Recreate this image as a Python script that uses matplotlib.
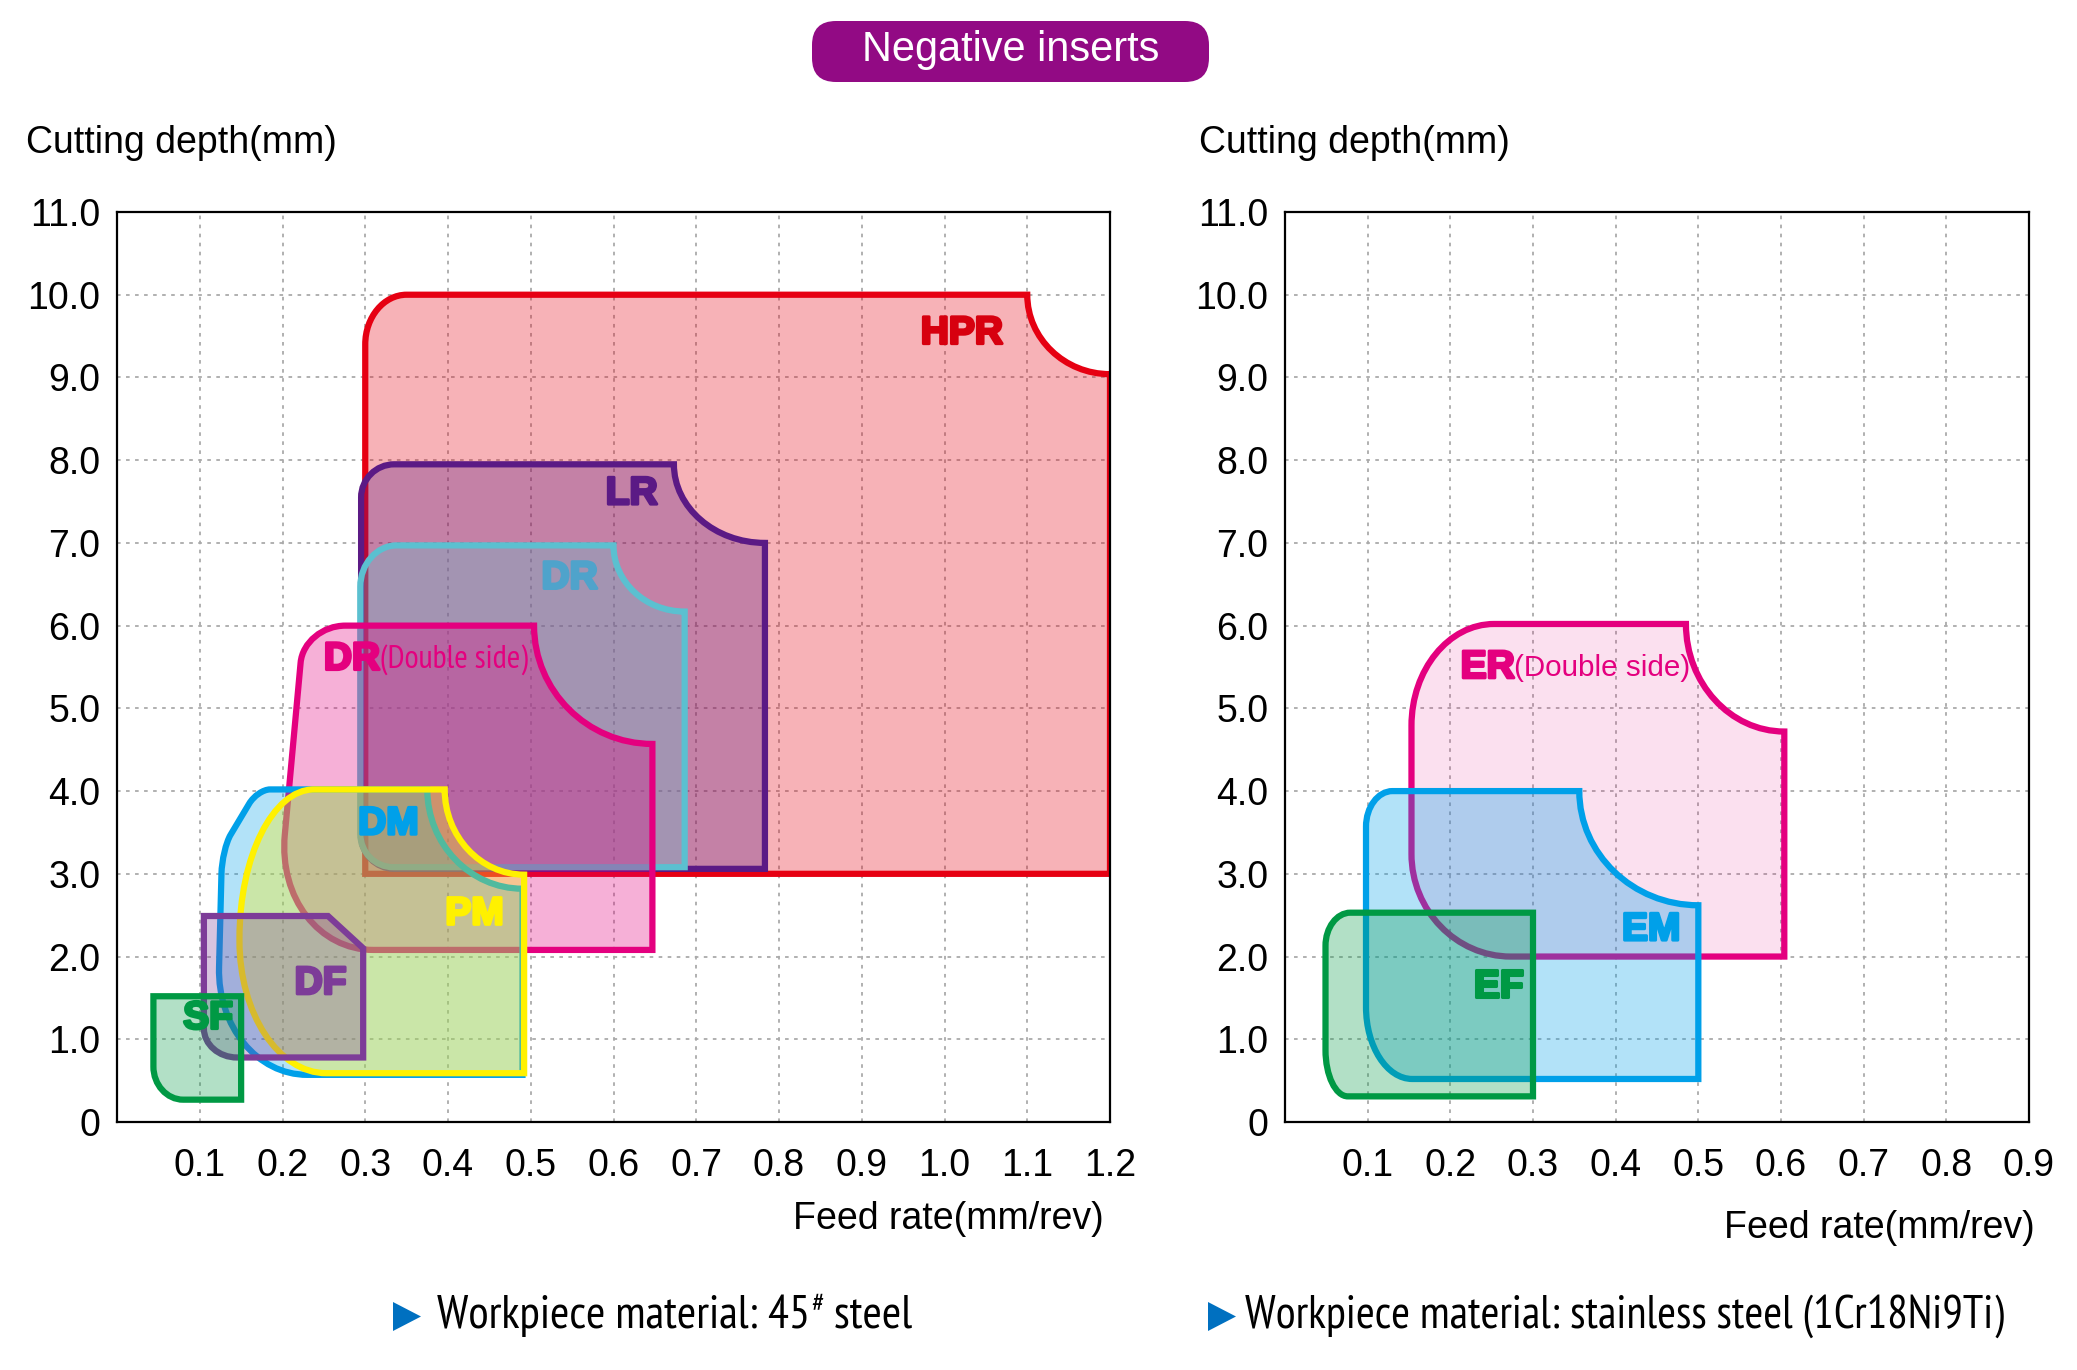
import matplotlib
matplotlib.use('Agg')
import numpy as np
import matplotlib.pyplot as plt
from matplotlib.path import Path
from matplotlib.patches import PathPatch, FancyBboxPatch, Polygon
from matplotlib.colors import to_rgba
from matplotlib import font_manager as fm
import matplotlib.patheffects as pe

# ---- data: region outlines (feed mm/rev, depth mm) ----
# corner: None = sharp, ('r', r1, r2) = rounded, ('n', r1, r2) = concave notch
# radii in depth units (0.1 feed == 1.0 depth on screen)
HPR_feed = [1.2, 0.3, 0.3, 1.2]
HPR_depth = [3.0, 3.0, 10.0, 10.0]
HPR_corner = [None, None, ('r', 0.6, 0.5), ('n', 1.0, 0.96)]

LR_feed = [0.783, 0.295, 0.295, 0.783]
LR_depth = [3.06, 3.06, 7.95, 7.95]
LR_corner = [None, ('r', 0.4, 0.4), ('r', 0.4, 0.4), ('n', 1.1, 0.95)]

DR_feed = [0.686, 0.294, 0.294, 0.686]
DR_depth = [3.08, 3.08, 6.97, 6.97]
DR_corner = [None, ('r', 0.4, 0.4), ('r', 0.5, 0.44), ('n', 0.86, 0.8)]

DRD_feed = [0.647, 0.19, 0.226, 0.647]
DRD_depth = [2.08, 2.08, 6.0, 6.0]
DRD_corner = [None, ('r', 1.2, 1.4), ('r', 0.45, 0.5), ('n', 1.43, 1.43)]

DM_feed = [0.49, 0.12, 0.127, 0.17, 0.49]
DM_depth = [0.57, 0.57, 3.3, 4.02, 4.02]
DM_corner = [None, ('r', 1.1, 1.3), ('r', 0.3, 0.2), ('r', 0.2, 0.15), ('n', 1.15, 1.2)]

PM_feed = [0.492, 0.148, 0.148, 0.492]
PM_depth = [0.59, 0.59, 4.02, 4.02]
PM_corner = [None, ('r', 1.05, 1.6), ('r', 1.8, 0.9), ('n', 0.96, 1.03)]

DF_feed = [0.2975, 0.105, 0.105, 0.255, 0.2975]
DF_depth = [0.78, 0.78, 2.49, 2.49, 2.1]
DF_corner = [None, ('r', 0.4, 0.35), None, None, None]

SF_feed = [0.15, 0.044, 0.044, 0.15]
SF_depth = [0.27, 0.27, 1.52, 1.52]
SF_corner = [None, ('r', 0.36, 0.4), None, None]

ER_feed = [0.604, 0.153, 0.153, 0.604]
ER_depth = [2.0, 2.0, 6.02, 6.02]
ER_corner = [None, ('r', 1.2, 1.24), ('r', 1.23, 1.0), ('n', 1.19, 1.3)]

EM_feed = [0.5, 0.098, 0.098, 0.5]
EM_depth = [0.52, 0.52, 4.0, 4.0]
EM_corner = [None, ('r', 0.56, 0.87), ('r', 0.43, 0.32), ('n', 1.44, 1.38)]

EF_feed = [0.3, 0.049, 0.049, 0.3]
EF_depth = [0.31, 0.31, 2.53, 2.53]
EF_corner = [None, ('r', 0.27, 0.56), ('r', 0.4, 0.3), None]

left_ticks = [0.1, 0.2, 0.3, 0.4, 0.5, 0.6, 0.7, 0.8, 0.9, 1.0, 1.1, 1.2]
right_ticks = [0.1, 0.2, 0.3, 0.4, 0.5, 0.6, 0.7, 0.8, 0.9]
depth_ticks = [0, 1, 2, 3, 4, 5, 6, 7, 8, 9, 10, 11]

plt.rcParams['font.family'] = ['Liberation Sans', 'DejaVu Sans']


# look for a narrow sans face for the condensed captions
def narrow_rank(f):
    if f.style != 'normal' or f.weight not in (400, 'normal', 'regular', 'book'):
        return None
    if 'Mono' in f.name or 'Serif' in f.name or 'Sans' not in f.name:
        return None
    if 'Liberation Sans Narrow' in f.name:
        return 0
    if 'Narrow' in f.name:
        return 1
    if 'condensed' in str(f.stretch) or 'Condensed' in f.name:
        return 2
    return None


best = None
for f in fm.fontManager.ttflist:
    r = narrow_rank(f)
    if r is not None and (best is None or r < best[0]):
        best = (r, f.fname)
narrow_prop = fm.FontProperties(fname=best[1]) if best else fm.FontProperties(family='Liberation Sans')

K = 0.55
W, H = 2077, 1370


def outline(feed, depth, corners):
    pts = np.column_stack([np.array(feed) * 10, depth])
    n = len(pts)
    verts, codes = [], []
    for i in range(n):
        V = pts[i]
        c = corners[i]
        if c is None:
            verts.append(V)
            codes.append(Path.LINETO)
            continue
        kind, r1, r2 = c
        P = pts[i - 1]
        N = pts[(i + 1) % n]
        u1 = (P - V) / np.hypot(*(P - V))
        u2 = (N - V) / np.hypot(*(N - V))
        A = V + r1 * u1
        B = V + r2 * u2
        if kind == 'r':
            C1 = A - K * r1 * u1
            C2 = B - K * r2 * u2
        else:
            C1 = A + K * r2 * u2
            C2 = B + K * r1 * u1
        verts += [A, C1, C2, B]
        codes += [Path.LINETO, Path.CURVE4, Path.CURVE4, Path.CURVE4]
    codes[0] = Path.MOVETO
    verts.append(verts[0])
    codes.append(Path.CLOSEPOLY)
    verts = np.array(verts, dtype=float)
    verts[:, 0] /= 10
    return Path(verts, codes)


def region(ax, feed, depth, corners, edge, face, alpha):
    p = PathPatch(outline(feed, depth, corners), facecolor=to_rgba(face, alpha),
                  edgecolor=edge, lw=4.5, joinstyle='miter')
    ax.add_patch(p)


def setup(ax, xmax, xt):
    ax.set_xlim(0, xmax)
    ax.set_ylim(0, 11)
    ax.set_xticks(xt)
    ax.set_xticklabels(['%.1f' % v for v in xt])
    ax.set_yticks(depth_ticks)
    ax.set_yticklabels(['0'] + ['%.1f' % v for v in depth_ticks[1:]])
    ax.tick_params(length=0, labelsize=27, pad=12)
    ax.tick_params(axis='x', pad=19)
    ax.grid(True, color='#AAAAAA', lw=1.3, ls=(0, (2, 3)))
    ax.set_axisbelow(True)
    for s in ax.spines.values():
        s.set_linewidth(1.6)


fig = plt.figure(figsize=(W / 100, H / 100), dpi=100)
renderer = fig.canvas.get_renderer()


def fit(t, target_px):
    w = t.get_window_extent(renderer).width
    t.set_fontsize(t.get_fontsize() * target_px / w)


ax1 = fig.add_axes([117 / W, 1 - 1122 / H, 993 / W, 910 / H])
ax2 = fig.add_axes([1285 / W, 1 - 1122 / H, 744 / W, 910 / H])
setup(ax1, 1.2, left_ticks)
setup(ax2, 0.9, right_ticks)

red, purple, cyan, magenta = '#E60012', '#5B1A85', '#5BC0D0', '#E4007F'
blue, yellow, dfc, green = '#00A0E9', '#FFF100', '#7D3C98', '#009944'

region(ax1, HPR_feed, HPR_depth, HPR_corner, red, red, 0.3)
region(ax1, LR_feed, LR_depth, LR_corner, purple, purple, 0.32)
region(ax1, DR_feed, DR_depth, DR_corner, cyan, cyan, 0.31)
region(ax1, DRD_feed, DRD_depth, DRD_corner, magenta, magenta, 0.31)
region(ax1, DM_feed, DM_depth, DM_corner, blue, blue, 0.3)
region(ax1, PM_feed, PM_depth, PM_corner, yellow, yellow, 0.32)
region(ax1, DF_feed, DF_depth, DF_corner, dfc, dfc, 0.3)
region(ax1, SF_feed, SF_depth, SF_corner, green, green, 0.3)

region(ax2, ER_feed, ER_depth, ER_corner, magenta, magenta, 0.12)
region(ax2, EM_feed, EM_depth, EM_corner, blue, blue, 0.3)
region(ax2, EF_feed, EF_depth, EF_corner, green, green, 0.3)


def label(ax, x, y, s, c, ha='center'):
    ax.text(x, y, s, color=c, fontsize=28, fontweight='bold', ha=ha, va='center',
            path_effects=[pe.withStroke(linewidth=2.2, foreground=c)])


label(ax1, 1.021, 9.53, 'HPR', '#D7000F')
label(ax1, 0.622, 7.59, 'LR', purple)
label(ax1, 0.547, 6.57, 'DR', '#4FA3CB')
label(ax1, 0.250, 5.59, 'DR', magenta, ha='left')
label(ax1, 0.328, 3.60, 'DM', blue)
label(ax1, 0.432, 2.51, 'PM', yellow)
label(ax1, 0.246, 1.67, 'DF', dfc)
label(ax1, 0.110, 1.25, 'SF', green)
label(ax2, 0.2125, 5.49, 'ER', magenta, ha='left')
label(ax2, 0.443, 2.32, 'EM', blue)
label(ax2, 0.258, 1.63, 'EF', green)

t = ax1.text(0.318, 5.59, '(Double side)', color=magenta, fontproperties=narrow_prop,
             ha='left', va='center')
t.set_fontsize(20)
fit(t, 147)
t = ax2.text(0.2765, 5.49, '(Double side)', color=magenta, fontsize=21,
             ha='left', va='center')
fit(t, 176)

# axis titles
fig.text(26 / W, 1 - 143 / H, 'Cutting depth(mm)', fontsize=27, va='center')
fig.text(1199 / W, 1 - 143 / H, 'Cutting depth(mm)', fontsize=27, va='center')
fig.text(1104 / W, 1 - 1219 / H, 'Feed rate(mm/rev)', fontsize=27, va='center', ha='right')
fig.text(2035 / W, 1 - 1228 / H, 'Feed rate(mm/rev)', fontsize=27, va='center', ha='right')

# title pill
box = FancyBboxPatch((8.12, 12.88), 3.97, 0.61, boxstyle='round,pad=0,rounding_size=0.24',
                     transform=fig.dpi_scale_trans, fc='#920A84', ec='none')
fig.add_artist(box)
t = fig.text(1011 / W, 1 - 50 / H, 'Negative inserts', color='white', fontsize=28,
             ha='center', va='center')
fit(t, 298)

# workpiece notes
for x0 in (3.93, 12.08):
    fig.add_artist(Polygon([[x0, 0.39], [x0, 0.68], [x0 + 0.28, 0.535]], closed=True,
                           transform=fig.dpi_scale_trans, fc='#0070C0', ec='none'))

yn = 1 - 1316 / H
probe = fig.text(437 / W, yn, 'Workpiece material: 45# steel', fontproperties=narrow_prop,
                 va='center')
probe.set_fontsize(26)
fit(probe, 484)
fs = probe.get_fontsize()
probe.remove()
t1 = fig.text(437 / W, yn, 'Workpiece material: 45', fontproperties=narrow_prop, va='center')
t1.set_fontsize(fs)
x1 = t1.get_window_extent(renderer).x1
t2 = fig.text(x1 / W + 0.0005, yn + 0.008, '#', fontproperties=narrow_prop, va='center')
t2.set_fontsize(fs * 0.6)
x2 = t2.get_window_extent(renderer).x1
t3 = fig.text(x2 / W, yn, ' steel', fontproperties=narrow_prop, va='center')
t3.set_fontsize(fs)

t = fig.text(1245 / W, yn, 'Workpiece material: stainless steel (1Cr18Ni9Ti)',
             fontproperties=narrow_prop, va='center')
t.set_fontsize(26)
fit(t, 759)

fig.savefig('out.png', dpi=100)
